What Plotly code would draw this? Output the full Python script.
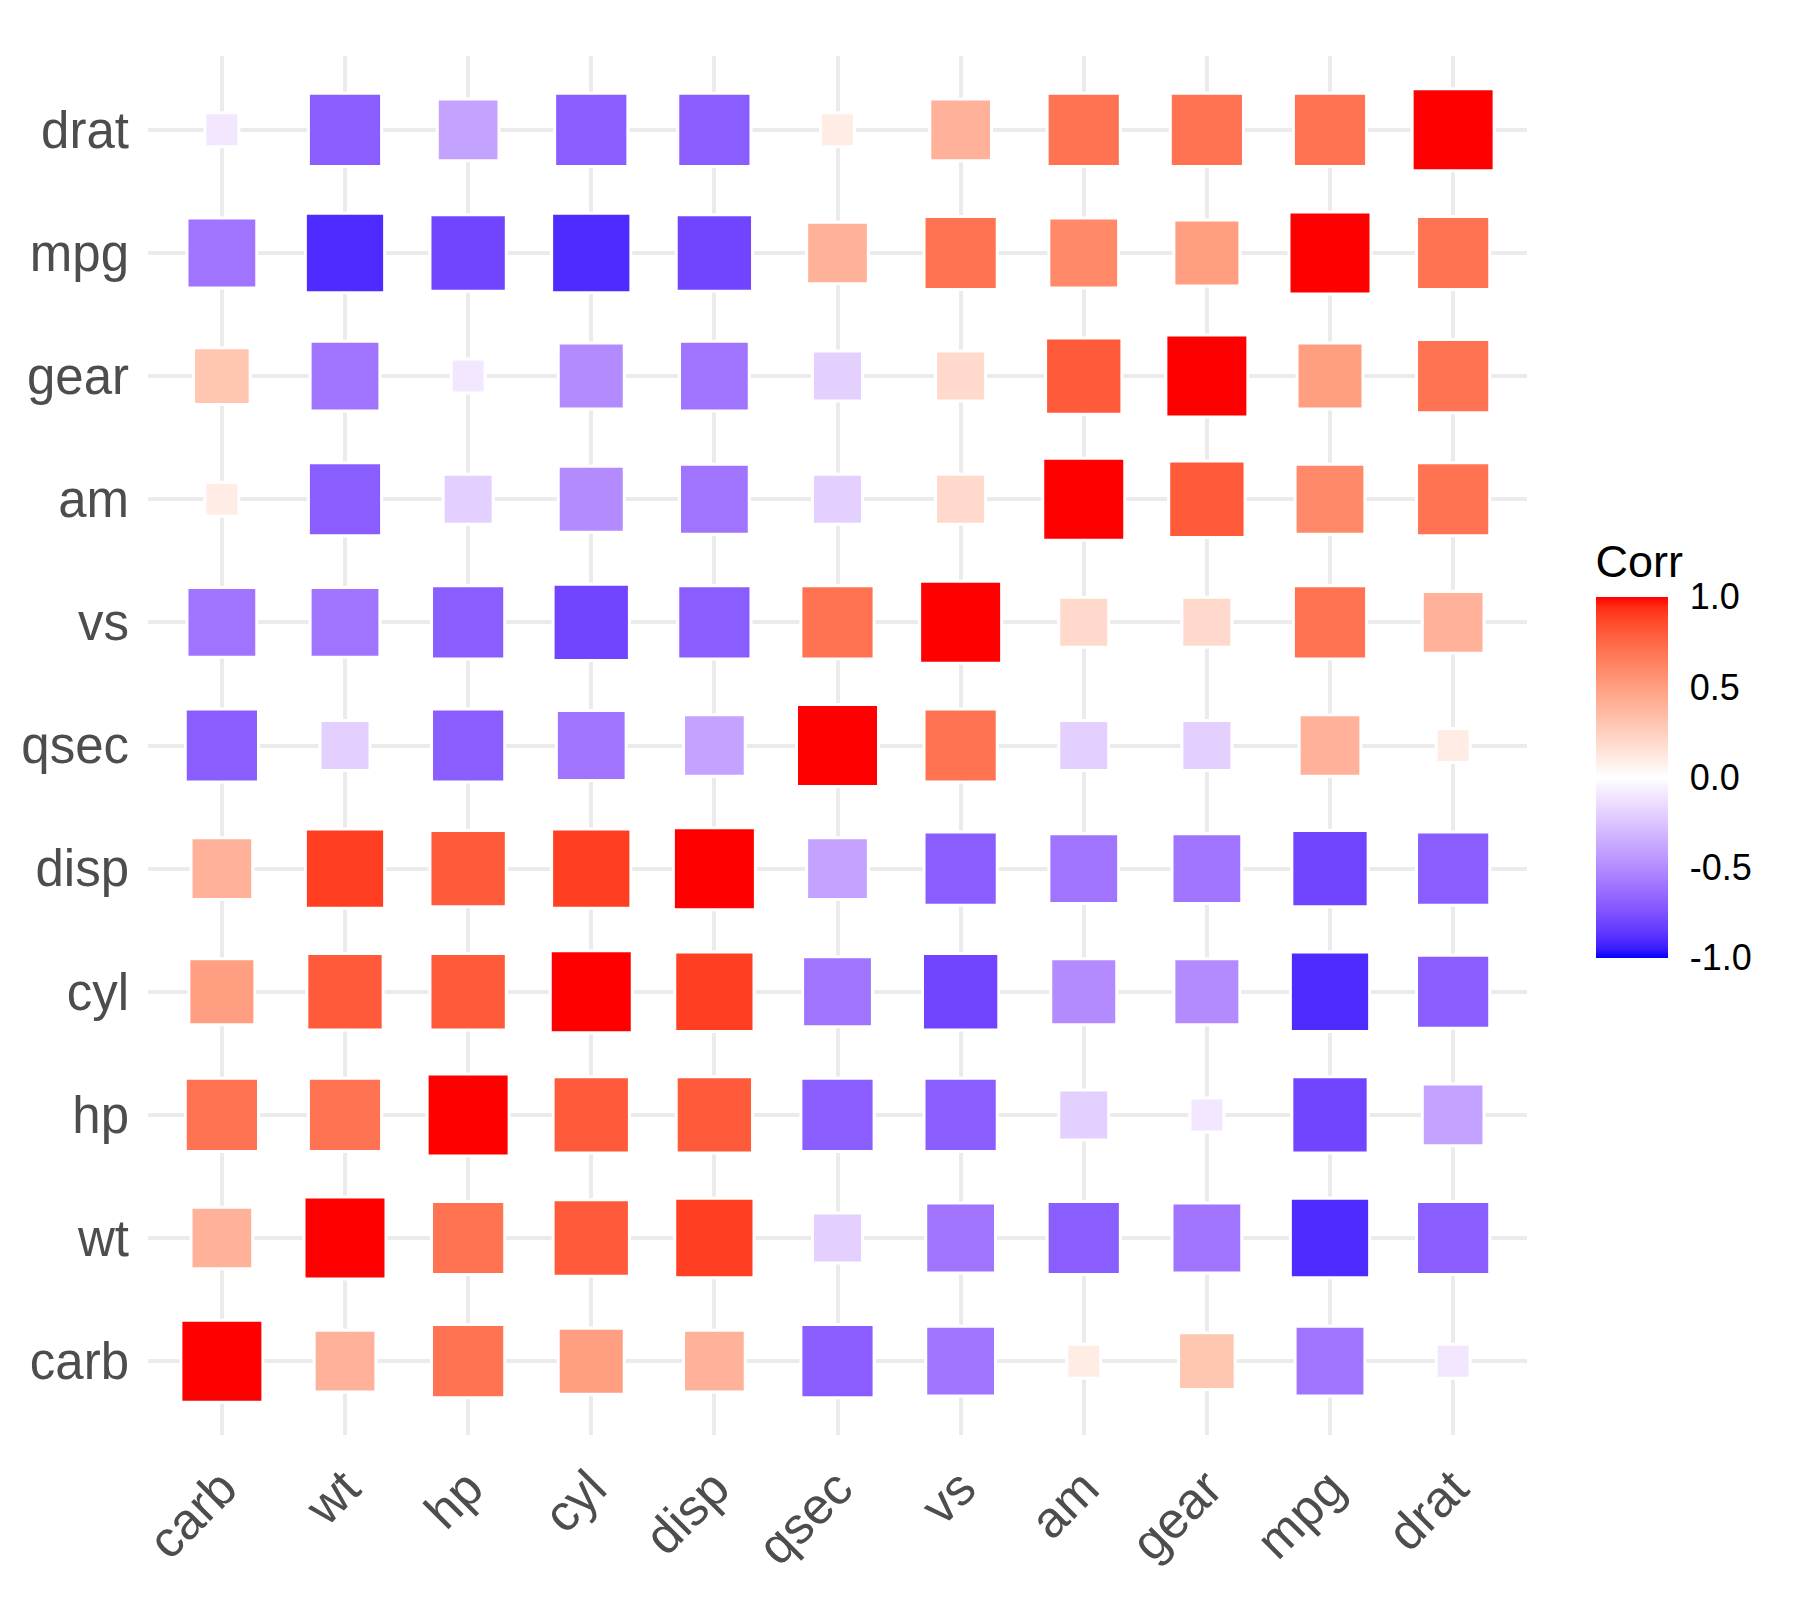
import numpy as np
import plotly.graph_objects as go

# variables in hierarchical-clustering order (as on both axes)
labels = ["carb", "wt", "hp", "cyl", "disp", "qsec", "vs", "am", "gear", "mpg", "drat"]

# correlation matrix (rounded to 1 decimal), rows/cols follow `labels`
corr_carb = [1.0, 0.4, 0.7, 0.5, 0.4, -0.7, -0.6, 0.1, 0.3, -0.6, -0.1]
corr_wt = [0.4, 1.0, 0.7, 0.8, 0.9, -0.2, -0.6, -0.7, -0.6, -0.9, -0.7]
corr_hp = [0.7, 0.7, 1.0, 0.8, 0.8, -0.7, -0.7, -0.2, -0.1, -0.8, -0.4]
corr_cyl = [0.5, 0.8, 0.8, 1.0, 0.9, -0.6, -0.8, -0.5, -0.5, -0.9, -0.7]
corr_disp = [0.4, 0.9, 0.8, 0.9, 1.0, -0.4, -0.7, -0.6, -0.6, -0.8, -0.7]
corr_qsec = [-0.7, -0.2, -0.7, -0.6, -0.4, 1.0, 0.7, -0.2, -0.2, 0.4, 0.1]
corr_vs = [-0.6, -0.6, -0.7, -0.8, -0.7, 0.7, 1.0, 0.2, 0.2, 0.7, 0.4]
corr_am = [0.1, -0.7, -0.2, -0.5, -0.6, -0.2, 0.2, 1.0, 0.8, 0.6, 0.7]
corr_gear = [0.3, -0.6, -0.1, -0.5, -0.6, -0.2, 0.2, 0.8, 1.0, 0.5, 0.7]
corr_mpg = [-0.6, -0.9, -0.8, -0.9, -0.8, 0.4, 0.7, 0.6, 0.5, 1.0, 0.7]
corr_drat = [-0.1, -0.7, -0.4, -0.7, -0.7, 0.1, 0.4, 0.7, 0.7, 0.7, 1.0]

rows = [corr_carb, corr_wt, corr_hp, corr_cyl, corr_disp, corr_qsec,
        corr_vs, corr_am, corr_gear, corr_mpg, corr_drat]

cbar_ticks = [-1.0, -0.5, 0.0, 0.5, 1.0]
cbar_ticktext = ["-1.0", "-0.5", "0.0", "0.5", "1.0"]


# --- blue-white-red gradient interpolated in Lab space (like ggplot) ---
def _lin(c):
    c = c / 255.0
    return c / 12.92 if c <= 0.04045 else ((c + 0.055) / 1.055) ** 2.4


def _delin(c):
    c = 12.92 * c if c <= 0.0031308 else 1.055 * c ** (1 / 2.4) - 0.055
    return int(round(min(max(c, 0), 1) * 255))


WP = (0.95047, 1.0, 1.08883)


def rgb_to_lab(rgb):
    r, g, b = [_lin(c) for c in rgb]
    X = 0.4124564 * r + 0.3575761 * g + 0.1804375 * b
    Y = 0.2126729 * r + 0.7151522 * g + 0.0721750 * b
    Z = 0.0193339 * r + 0.1191920 * g + 0.9503041 * b
    def f(t):
        return t ** (1 / 3) if t > 216 / 24389 else (24389 / 27 * t + 16) / 116
    fx, fy, fz = f(X / WP[0]), f(Y / WP[1]), f(Z / WP[2])
    return (116 * fy - 16, 500 * (fx - fy), 200 * (fy - fz))


def lab_to_rgb(lab):
    L, a, b = lab
    fy = (L + 16) / 116
    fx = fy + a / 500
    fz = fy - b / 200
    def finv(t):
        return t ** 3 if t ** 3 > 216 / 24389 else (116 * t - 16) / (24389 / 27)
    X, Y, Z = finv(fx) * WP[0], finv(fy) * WP[1], finv(fz) * WP[2]
    r = 3.2404542 * X - 1.5371385 * Y - 0.4985314 * Z
    g = -0.9692660 * X + 1.8760108 * Y + 0.0415560 * Z
    bb = 0.0556434 * X - 0.2040259 * Y + 1.0572252 * Z
    return "rgb(%d,%d,%d)" % (_delin(r), _delin(g), _delin(bb))


low, mid, high = rgb_to_lab((0, 0, 255)), rgb_to_lab((255, 255, 255)), rgb_to_lab((255, 0, 0))
colorscale = []
for t in np.linspace(0, 1, 41):
    v = 2 * t - 1
    a, b, f = (low, mid, v + 1) if v < 0 else (mid, high, v)
    colorscale.append([float(t), lab_to_rgb([a[k] + (b[k] - a[k]) * f for k in range(3)])])

# --- long format ---
xs, ys, vals = [], [], []
for i, row in enumerate(rows):
    for j, v in enumerate(row):
        xs.append(labels[j])
        ys.append(labels[i])
        vals.append(v)

absv = np.abs(vals)
amin, amax = absv.min(), absv.max()
fill_px = 31 + 48 * np.sqrt((absv - amin) / (amax - amin))
sizes = fill_px + 3

# plot area geometry (px)
PW = 1379.5
ML, MT = 140, 48
W, H = 1784, 1604

fig = go.Figure()
fig.add_trace(go.Scatter(
    x=xs, y=ys, mode="markers",
    marker=dict(
        symbol="square", size=sizes, color=vals, opacity=1,
        colorscale=colorscale, cmin=-1, cmax=1,
        line=dict(color="white", width=3),
        showscale=True,
        colorbar=dict(
            title=dict(text="Corr", side="top",
                       font=dict(size=45, color="black", family="Liberation Sans")),
            tickvals=cbar_ticks, ticktext=cbar_ticktext,
            tickfont=dict(size=36, color="black", family="Liberation Sans"),
            ticks="outside", ticklen=15, tickcolor="rgba(0,0,0,0)",
            thickness=72, thicknessmode="pixels",
            len=417, lenmode="pixels",
            x=1.0497, xanchor="left", y=0.3461, yanchor="bottom",
            outlinewidth=0, xpad=0, ypad=0,
        ),
    ),
    hovertemplate="%{x} / %{y}: %{marker.color}<extra></extra>",
    showlegend=False,
))

# white tick marks drawn across the colour bar at each break
bar_bottom, bar_h = 0.3461, 359 / PW
for v in cbar_ticks:
    yp = bar_bottom + (v + 1) / 2 * bar_h
    for x0, x1 in [(1596, 1611), (1653, 1668)]:
        fig.add_shape(type="line", xref="paper", yref="paper",
                      x0=(x0 - 148) / PW, x1=(x1 - 148) / PW, y0=yp, y1=yp,
                      line=dict(color="white", width=2))

axis_font = dict(size=51, color="#4D4D4D", family="Liberation Sans")
fig.update_xaxes(
    type="category", categoryorder="array", categoryarray=labels,
    range=[-0.6, len(labels) - 0.4],
    showgrid=True, gridcolor="#EBEBEB", gridwidth=4, zeroline=False,
    showline=False, ticks="", tickangle=-45, tickfont=axis_font,
    ticklabelstandoff=12,
)
fig.update_yaxes(
    type="category", categoryorder="array", categoryarray=labels,
    range=[-0.6, len(labels) - 0.4],
    showgrid=True, gridcolor="#EBEBEB", gridwidth=4, zeroline=False,
    showline=False, ticks="", tickfont=axis_font,
    ticklabelstandoff=18,
)

fig.update_layout(
    width=W, height=H, autosize=False,
    margin=dict(l=ML, r=W - ML - PW, t=MT, b=H - MT - PW, pad=0),
    plot_bgcolor="white", paper_bgcolor="white",
    font=dict(family="Liberation Sans"),
)

fig.write_html("out.html")
